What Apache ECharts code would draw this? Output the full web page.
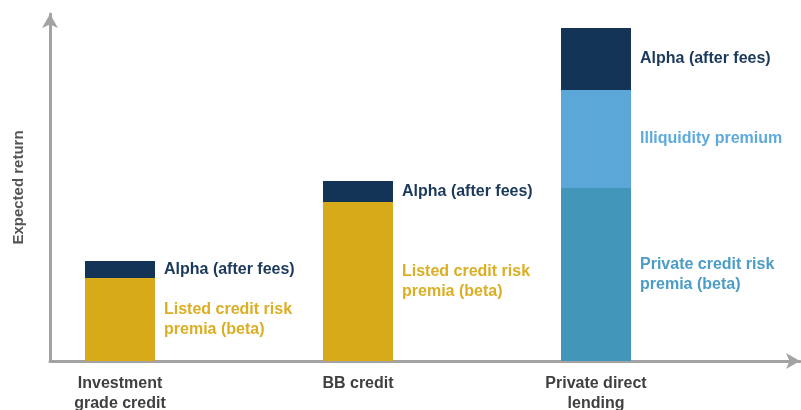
<!DOCTYPE html>
<html>
<head>
<meta charset="utf-8">
<script src="https://cdn.jsdelivr.net/npm/echarts@6/dist/echarts.min.js"></script>
<style>
html,body{margin:0;padding:0;background:#fff;}
#main{width:801px;height:410px;}
</style>
</head>
<body>
<div id="main"></div>
<script>
var dom = document.getElementById("main");
var myChart = echarts.init(dom);

// (arbitrary units, base = 0)
var categories = ['Investment\ngrade credit', 'BB credit', 'Private direct\nlending'];
var listedBeta = [83, 159, '-'];
var privateBeta = ['-', '-', 173];
var illiquidity = ['-', '-', 98];
var alpha = [17, 21, 62];

var labelFont = 'Liberation Sans';
var axisGrey = '#a3a3a3';

function lbl(color, text) {
  return {
    show: true,
    position: 'right',
    distance: 9,
    color: color,
    fontFamily: labelFont,
    fontWeight: 'bold',
    fontSize: 16,
    lineHeight: 20,
    formatter: text
  };
}

option = {
  backgroundColor: '#fff',
  animation: false,
  grid: [
    {left: 50, top: 14, right: 1, bottom: 49, containLabel: false, outerBoundsMode: 'none'},
    {left: 1, top: 12, width: 714, bottom: 49, containLabel: false, outerBoundsMode: 'none'}
  ],
  xAxis: [
    {
      gridIndex: 0, type: 'value', min: 0, max: 100,
      axisLine: {show: true, symbol: ['none', 'arrow'], symbolSize: [12, 14], lineStyle: {color: axisGrey, width: 3}},
      axisTick: {show: false}, axisLabel: {show: false}, splitLine: {show: false}
    },
    {
      gridIndex: 1, type: 'category', data: categories,
      axisLine: {show: false}, axisTick: {show: false}, splitLine: {show: false},
      axisLabel: {
        color: '#404040', fontFamily: labelFont, fontWeight: 'bold', fontSize: 16,
        lineHeight: 20, margin: 13
      }
    }
  ],
  yAxis: [
    {
      gridIndex: 0, type: 'value', min: 0, max: 349,
      name: 'Expected return', nameLocation: 'middle', nameGap: 24,
      nameTextStyle: {color: '#555', fontFamily: labelFont, fontWeight: 'bold', fontSize: 15},
      axisLine: {show: true, symbol: ['none', 'arrow'], symbolSize: [12, 14], lineStyle: {color: axisGrey, width: 3}},
      axisTick: {show: false}, axisLabel: {show: false}, splitLine: {show: false}
    },
    {
      gridIndex: 1, type: 'value', min: 0, max: 349, show: false
    }
  ],
  series: [
    {
      name: 'Listed credit risk premia (beta)', type: 'bar', stack: 'r',
      xAxisIndex: 1, yAxisIndex: 1, barWidth: 70,
      itemStyle: {color: '#d7aa19'},
      label: lbl('#dcae24', 'Listed credit risk\npremia (beta)'),
      data: listedBeta
    },
    {
      name: 'Private credit risk premia (beta)', type: 'bar', stack: 'r',
      xAxisIndex: 1, yAxisIndex: 1, barWidth: 70,
      itemStyle: {color: '#4196ba'},
      label: lbl('#4b9dc5', 'Private credit risk\npremia (beta)'),
      data: privateBeta
    },
    {
      name: 'Illiquidity premium', type: 'bar', stack: 'r',
      xAxisIndex: 1, yAxisIndex: 1, barWidth: 70,
      itemStyle: {color: '#5aa7d8'},
      label: lbl('#5eaadc', 'Illiquidity premium'),
      data: illiquidity
    },
    {
      name: 'Alpha (after fees)', type: 'bar', stack: 'r',
      xAxisIndex: 1, yAxisIndex: 1, barWidth: 70,
      itemStyle: {color: '#133457'},
      label: lbl('#1b395c', 'Alpha (after fees)'),
      data: alpha
    }
  ]
};

myChart.setOption(option, true);
</script>
</body>
</html>
